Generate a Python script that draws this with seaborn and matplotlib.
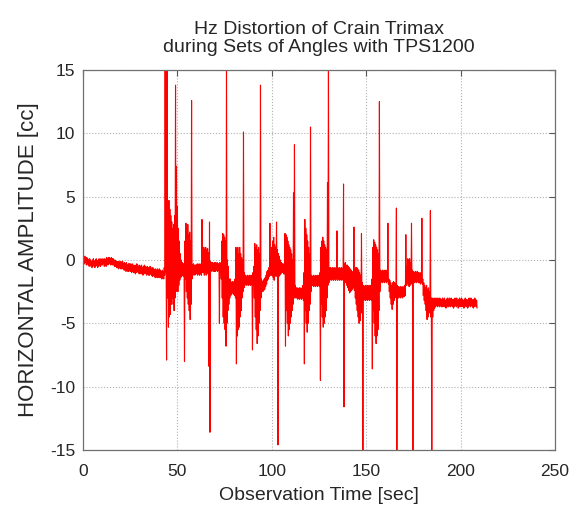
import numpy as np
import pandas as pd
import matplotlib
matplotlib.use("Agg")
import matplotlib.pyplot as plt
import seaborn as sns

# the trace is a dense red band: upper and lower edge of the band,
# read off the reference every half second (spikes sit in one of them)
half_step = 0.25
upper = [
    0.3, 0.2, 0.3, 0.1, 0.2, 0.1, 0.0, 0.1, 0.0, -0.1,
    0.0, 0.1, -0.1, 0.0, 0.1, -0.1, 0.0, 0.1, 0.0, 0.1,
    0.0, 0.1, 0.0, 0.1, 0.0, 0.2, 0.1, 0.2, 0.2, 0.1,
    0.2, 0.1, 0.1, 0.0, 0.0, -0.1, -0.1, -0.2, -0.1, -0.2,
    -0.1, -0.2, -0.1, -0.3, -0.2, -0.3, -0.2, -0.4, -0.3, -0.3,
    -0.3, -0.4, -0.3, -0.4, -0.4, -0.5, -0.4, -0.3, -0.4, -0.5,
    -0.4, -0.5, -0.4, -0.6, -0.5, -0.4, -0.5, -0.6, -0.5, -0.6,
    -0.6, -0.5, -0.6, -0.7, -0.6, -0.7, -0.8, -0.7, -0.8, -0.7,
    -0.8, -0.7, -0.8, -0.9, -0.8, -0.9, -0.6, 16.0, 0.5, 16.0,
    3.0, 4.7, 4.0, 3.5, 3.0, 2.5, 2.8, 3.5, 13.8, 7.4,
    4.2, 2.5, 1.5, 0.5, 0.0, -0.2, -0.3, -0.3, 1.5, 2.9,
    2.5, 2.8, 2.0, 2.2, 1.5, 12.6, -0.4, -0.3, -0.4, -0.4,
    -0.4, -0.3, -0.4, -0.3, -0.4, -0.3, 3.2, 0.5, 1.0, 0.8,
    1.0, 0.8, 0.9, 0.6, 3.0, -0.1, -0.2, -0.2, -0.3, -0.2,
    -0.2, -0.3, -0.2, -0.3, -0.3, -0.2, -0.3, 1.5, 2.1, 2.0,
    1.8, 1.5, 16.0, 0.0, -0.5, -1.5, -1.5, -1.8, -1.7, -1.8,
    -1.7, -1.5, 1.0, 0.8, 1.0, 0.5, 1.0, 0.5, 0.2, 0.0,
    10.1, -1.0, -1.2, -1.3, -1.2, -1.3, -1.2, -1.3, -1.2, -1.3,
    -1.0, -0.5, 1.3, 1.0, 1.2, 0.8, 1.0, 0.5, 13.8, -1.5,
    -1.7, -1.6, -1.5, -1.4, -1.2, -0.9, -0.8, -0.6, 2.9, 0.5,
    1.0, 1.5, 1.8, 1.2, 1.0, 3.0, 0.8, 0.5, 0.3, 0.0,
    -0.2, -0.3, -0.3, -0.4, 2.1, 2.0, 1.8, 1.5, 1.2, 1.0,
    0.8, 0.5, 0.0, 5.3, 9.1, -2.0, -2.2, -2.2, -2.3, -2.2,
    -2.2, -2.3, -2.2, -2.0, -1.0, 3.2, 2.5, 2.0, 1.5, 1.0,
    0.5, 10.5, -1.2, -1.3, -1.2, -1.3, -1.2, -1.3, -1.2, -1.3,
    -1.2, -1.0, 1.0, 1.5, 1.8, 1.5, 1.2, 1.0, 0.8, 6.1,
    16.0, -0.6, -0.6, -0.7, -0.6, -0.7, -0.6, -0.7, -0.6, 2.3,
    -0.6, -0.7, -0.6, -0.7, -0.6, -0.7, 6.0, -0.3, -0.2, -0.4,
    -0.4, -0.5, -0.6, -0.7, -0.8, -0.9, -1.0, 2.6, -0.8, -0.6,
    -0.6, -0.7, -0.8, -1.0, -1.2, 2.1, -1.8, -2.0, -2.1, -2.0,
    -2.1, -2.0, -2.1, -2.0, -2.1, -2.0, -1.5, 1.0, 1.6, 1.4,
    1.2, 1.0, 0.8, 0.5, 12.5, -0.8, -0.9, -0.8, -0.9, -0.8,
    -0.9, -0.8, -0.9, 2.9, -1.5, -1.6, -1.8, -2.0, -1.8, -1.7,
    -1.8, -1.9, 4.1, -2.0, -2.1, -2.2, -2.1, -2.2, -2.1, -2.2,
    -2.1, -2.0, 2.0, -0.5, 0.1, 0.0, 0.1, -0.2, 2.9, -0.8,
    -0.9, -1.0, -0.9, -1.0, -0.9, -1.0, -1.0, -1.1, -1.0, 3.3,
    -1.5, -1.8, -2.0, -2.2, -2.0, -2.3, -2.2, -2.5, 3.9, -3.0,
    -3.0, -3.1, -3.0, -3.1, -3.0, -3.1, -3.0, -3.1, -3.0, -3.1,
    -3.1, -3.0, -3.1, -3.0, -3.2, -3.1, -3.0, -3.1, -3.0, -3.1,
    -3.0, -3.1, -3.2, -3.1, -3.0, -3.1, -3.0, -3.2, -3.1, -3.0,
    -3.1, -3.0, -3.1, -3.2, -3.1, -3.0, -3.1, -3.2, -3.1, -3.0,
    -3.1, -3.0, -3.1, -3.2, -3.1, -3.0, -3.1, -3.2,
]
lower = [
    -0.2, -0.3, -0.2, -0.4, -0.3, -0.4, -0.5, -0.4, -0.5, -0.6,
    -0.5, -0.4, -0.6, -0.5, -0.4, -0.6, -0.5, -0.4, -0.5, -0.4,
    -0.4, -0.3, -0.5, -0.4, -0.5, -0.3, -0.4, -0.3, -0.3, -0.4,
    -0.3, -0.4, -0.4, -0.5, -0.5, -0.6, -0.6, -0.7, -0.6, -0.7,
    -0.7, -0.7, -0.6, -0.8, -0.8, -0.9, -0.8, -0.9, -0.9, -0.8,
    -0.9, -1.0, -0.9, -1.0, -1.0, -1.1, -1.0, -0.9, -1.0, -1.1,
    -1.0, -1.1, -1.0, -1.2, -1.1, -1.0, -1.1, -1.2, -1.1, -1.2,
    -1.2, -1.1, -1.2, -1.3, -1.2, -1.3, -1.4, -1.3, -1.4, -1.3,
    -1.4, -1.3, -1.4, -1.5, -1.4, -1.5, -1.2, -1.0, -7.9, -3.0,
    -5.3, -4.5, -4.3, -3.5, -3.0, -3.5, -4.0, -3.0, -2.5, -2.0,
    -2.5, -2.0, -1.6, -1.4, -1.3, -1.2, -1.3, -8.0, -1.5, -2.5,
    -3.0, -3.5, -4.0, -4.7, -3.5, -1.5, -1.2, -1.1, -1.2, -1.1,
    -1.1, -1.2, -1.1, -1.2, -1.1, -1.2, -1.0, -1.0, -1.2, -1.0,
    -1.2, -1.0, -1.1, -8.4, -13.6, -0.8, -0.9, -0.8, -0.9, -0.9,
    -0.9, -0.8, -0.9, -0.8, -5.0, -0.9, -1.5, -3.0, -4.5, -5.0,
    -5.5, -6.8, -5.0, -4.0, -3.5, -3.0, -2.8, -2.7, -2.6, -2.7,
    -2.8, -3.0, -8.2, -6.0, -5.5, -5.3, -4.5, -4.0, -3.0, -2.5,
    -2.2, -2.0, -1.9, -2.0, -1.9, -2.0, -1.9, -2.0, -1.9, -7.1,
    -2.0, -3.0, -4.5, -5.5, -6.6, -6.0, -5.0, -4.0, -3.0, -2.5,
    -2.5, -2.4, -2.3, -2.1, -1.9, -1.6, -1.5, -1.3, -1.2, -1.2,
    -1.2, -1.4, -1.6, -1.2, -1.3, -1.0, -14.6, -1.3, -1.2, -1.1,
    -1.0, -1.0, -1.1, -1.1, -6.8, -4.0, -5.0, -6.0, -5.5, -5.0,
    -4.5, -4.0, -3.5, -3.0, -3.0, -3.0, -3.0, -3.1, -3.0, -3.1,
    -3.0, -3.1, -3.0, -3.2, -8.2, -4.0, -5.0, -5.7, -5.0, -4.0,
    -3.5, -2.5, -2.0, -2.0, -2.1, -2.0, -2.1, -2.0, -2.1, -2.0,
    -2.1, -9.5, -3.5, -4.5, -5.3, -5.0, -4.5, -4.0, -3.0, -2.0,
    -1.8, -1.6, -1.5, -1.6, -1.5, -1.6, -1.5, -1.6, -1.5, -1.6,
    -1.5, -1.6, -1.5, -1.6, -1.5, -1.6, -11.6, -1.5, -1.8, -2.0,
    -2.2, -2.4, -2.6, -2.5, -2.4, -2.3, -2.2, -2.4, -3.0, -3.5,
    -4.0, -4.5, -5.0, -4.8, -4.2, -3.5, -16.0, -3.2, -3.1, -3.2,
    -3.1, -3.2, -3.1, -3.2, -3.1, -3.2, -8.6, -4.0, -5.0, -6.0,
    -6.6, -6.0, -5.5, -4.0, -2.5, -1.8, -1.7, -1.8, -1.7, -1.8,
    -1.7, -1.8, -1.7, -1.9, -2.5, -3.0, -3.5, -3.9, -3.5, -3.2,
    -3.0, -2.9, -16.0, -3.0, -3.0, -2.9, -3.0, -2.9, -3.0, -2.9,
    -2.9, -2.8, -2.0, -1.8, -2.0, -2.1, -2.0, -1.9, -1.8, -16.0,
    -1.7, -1.8, -1.7, -1.8, -1.7, -1.8, -1.8, -1.9, -1.8, -1.9,
    -2.8, -3.2, -3.5, -4.0, -4.7, -4.5, -4.2, -4.0, -4.5, -16.0,
    -4.5, -4.0, -3.8, -3.7, -3.6, -3.7, -3.6, -3.7, -3.6, -3.7,
    -3.7, -3.6, -3.7, -3.6, -3.8, -3.7, -3.6, -3.7, -3.6, -3.7,
    -3.6, -3.7, -3.8, -3.7, -3.6, -3.7, -3.6, -3.8, -3.7, -3.6,
    -3.7, -3.6, -3.7, -3.8, -3.7, -3.6, -3.7, -3.8, -3.7, -3.6,
    -3.7, -3.6, -3.7, -3.8, -3.7, -3.6, -3.7, -3.8,
]

x_ticks = [0, 50, 100, 150, 200, 250]
y_ticks = [-15, -10, -5, 0, 5, 10, 15]

trace = np.column_stack([upper, lower]).ravel()
df = pd.DataFrame({"time": np.arange(len(trace)) * half_step, "amp": trace})

sns.set_style("white")
plt.rcParams["font.family"] = ["Liberation Sans", "DejaVu Sans"]
plt.rcParams["axes.unicode_minus"] = False

fig = plt.figure(figsize=(5.79, 5.09), dpi=100)
ax = fig.add_axes([0.1434, 0.1159, 0.8151, 0.7466])

sns.lineplot(data=df, x="time", y="amp", color="red", linewidth=0.8,
             estimator=None, sort=False, ax=ax)

ax.set_xlim(0, 250)
ax.set_ylim(-15, 15)
ax.set_xticks(x_ticks)
ax.set_yticks(y_ticks)
ax.grid(True, linestyle=":", color="#b0b0b0", linewidth=0.8)
ax.tick_params(direction="in", top=True, right=True, length=4,
               labelsize=12.5, color="#555555")
ax.tick_params(axis="x", pad=10)
ax.tick_params(axis="y", pad=5.5)
for s in ax.spines.values():
    s.set_color("#707070")
    s.set_linewidth(0.9)

ax.set_title("Hz Distortion of Crain Trimax\nduring Sets of Angles with TPS1200",
             fontsize=14, pad=13, linespacing=1.1)
ax.set_xlabel("Observation Time [sec]", fontsize=14, labelpad=6)
ax.set_ylabel("HORIZONTAL AMPLITUDE [cc]", fontsize=16, labelpad=8)

fig.savefig("out.png", dpi=100)
plt.close()
